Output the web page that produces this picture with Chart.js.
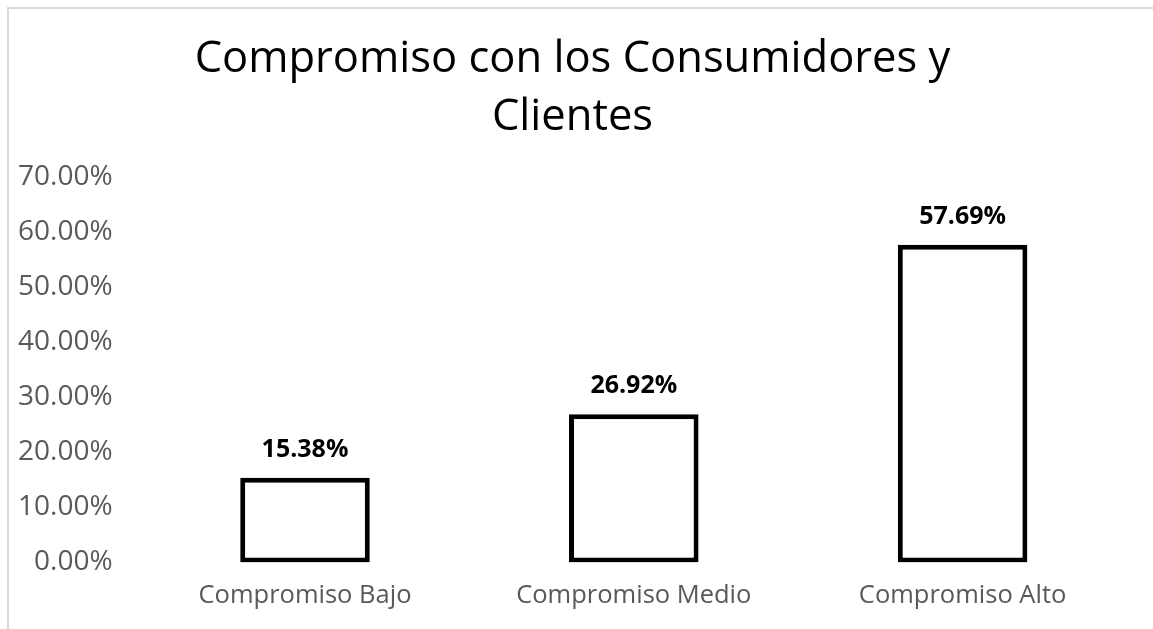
<!DOCTYPE html>
<html><head><meta charset="utf-8">
<script src="https://cdn.jsdelivr.net/npm/chart.js@4"></script>
<style>
html,body{margin:0;padding:0;background:#fff;width:1153px;height:629px;overflow:hidden}
#frame{position:absolute;left:7px;top:7px;width:1146px;height:622px;border-top:2px solid #d9d9d9;border-left:2px solid #d9d9d9;box-sizing:border-box}
#wrap{position:absolute;left:0;top:0;width:1153px;height:629px}
</style></head><body>
<div id="frame"></div>
<div id="wrap"><canvas id="c"></canvas></div>
<script>
const categories = ["Compromiso Bajo", "Compromiso Medio", "Compromiso Alto"];
const values = [15.38, 26.92, 57.69];
const titleLines = ["Compromiso con los Consumidores y", "Clientes"];
const FONT = "'Open Sans', sans-serif";

const labelPlugin = {
  id: 'valLabels',
  afterDatasetsDraw(chart) {
    const ctx = chart.ctx;
    const meta = chart.getDatasetMeta(0);
    ctx.save();
    ctx.font = "bold 25px " + FONT;
    ctx.fillStyle = "#000";
    ctx.textAlign = "center";
    ctx.textBaseline = "alphabetic";
    meta.data.forEach((bar, i) => {
      ctx.fillText(values[i].toFixed(2) + "%", bar.x, bar.y - 21);
    });
    ctx.restore();
  }
};

new Chart(document.getElementById('c'), {
  type: 'bar',
  data: {
    labels: categories,
    datasets: [{
      data: values,
      backgroundColor: '#ffffff',
      borderColor: '#000000',
      borderWidth: 5,
      borderSkipped: false,
      categoryPercentage: 1,
      barPercentage: 0.394
    }]
  },
  options: {
    responsive: true,
    maintainAspectRatio: false,
    animation: false,
    layout: { padding: { left: 18, right: 26, top: 0, bottom: 0 } },
    plugins: {
      legend: { display: false },
      tooltip: { enabled: false },
      title: {
        display: true,
        text: titleLines,
        color: '#000000',
        font: { family: FONT, size: 43.5, weight: 'normal', lineHeight: 1.345 },
        padding: { top: 30, bottom: 30 }
      }
    },
    scales: {
      x: {
        grid: { display: false, drawTicks: false },
        border: { display: false },
        ticks: { color: '#595959', font: { family: FONT, size: 25.5 }, padding: 18 }
      },
      y: {
        min: 0, max: 70,
        grid: { display: false, drawTicks: false },
        border: { display: false },
        afterFit: s => { s.width = 122.6; },
        ticks: {
          stepSize: 10,
          color: '#595959',
          font: { family: FONT, size: 28 },
          padding: 28,
          callback: v => v.toFixed(2) + '%'
        }
      }
    }
  },
  plugins: [labelPlugin]
});
</script>
</body></html>
